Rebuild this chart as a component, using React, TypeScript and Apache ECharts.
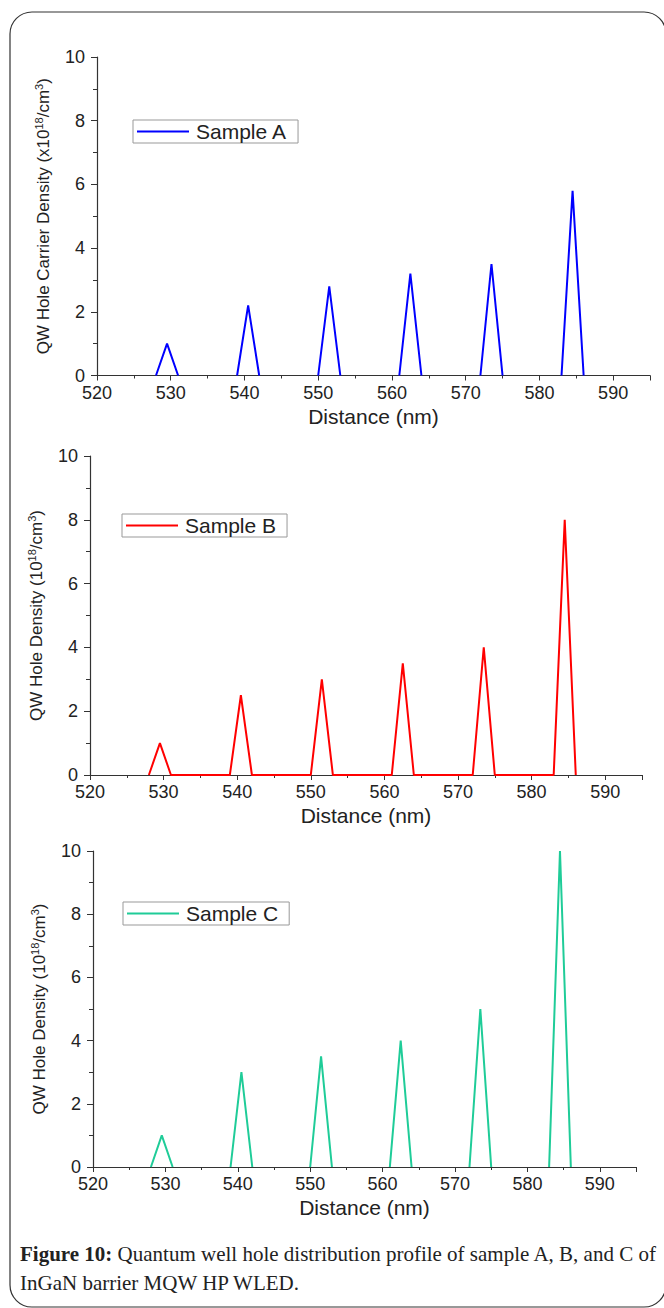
import React, { useEffect, useRef } from "react";
import * as echarts from "echarts";

// ---- data ----
const wellStart = [528, 539, 550, 561, 572, 583];
const peakPos = [529.5, 540.5, 551.5, 562.5, 573.5, 584.5];
const wellEnd = [531, 542, 553, 564, 575, 586];
const peaksA = [1.0, 2.2, 2.8, 3.2, 3.5, 5.8];
const peaksB = [1.0, 2.5, 3.0, 3.5, 4.0, 8.0];
const peaksC = [1.0, 3.0, 3.5, 4.0, 5.0, 10.0];
const seriesNames = ["Sample A", "Sample B", "Sample C"];
const seriesColors = ["#0000ff", "#ff0000", "#1fcc98"];
const yNames = [
  "QW Hole Carrier Density (x10{sup|18}/cm{sup|3})",
  "QW Hole Density (10{sup|18}/cm{sup|3})",
  "QW Hole Density (10{sup|18}/cm{sup|3})",
];
const xName = "Distance (nm)";
const xMin = 520, xMax = 595, xInterval = 10;
const yMin = 0, yMax = 10, yInterval = 2;
const captionBold = "Figure 10:";
const captionLine1 = " Quantum well hole distribution profile of sample A, B, and C of";
const captionLine2 = "InGaN barrier MQW HP WLED.";

const SANS = "'Liberation Sans', Arial, sans-serif";
const SERIF = "'Liberation Serif', 'Times New Roman', serif";

function buildData(peaks: number[], continuous: boolean) {
  const out: any[] = [];
  peaks.forEach((p, i) => {
    out.push([wellStart[i], 0]);
    out.push([peakPos[i], p]);
    out.push([wellEnd[i], 0]);
    if (!continuous && i < peaks.length - 1) out.push([wellEnd[i], "-"]);
  });
  return out;
}

const grids = [
  { left: 97, top: 57, width: 553, height: 318.5 },
  { left: 90, top: 456, width: 552, height: 319 },
  { left: 93, top: 851, width: 543, height: 316 },
];
const legendPos = [
  { left: 133, top: 120 },
  { left: 122, top: 514 },
  { left: 123, top: 902 },
];

export default function App() {
  const ref = useRef<HTMLDivElement>(null);
  useEffect(() => {
    if (!ref.current) return;
    const chart = echarts.init(ref.current, null, { renderer: "svg" });
    const axisColor = "#333";
    const textColor = "#222";
    const xAxes = grids.map((_, i) => ({
      type: "value",
      gridIndex: i,
      min: xMin,
      max: xMax,
      interval: xInterval,
      name: xName,
      nameLocation: "middle",
      nameGap: 30,
      nameTextStyle: { fontFamily: SANS, fontSize: 21, color: textColor },
      axisLine: { show: true, lineStyle: { color: axisColor, width: 1.2 } },
      axisTick: { show: true, length: 5, lineStyle: { color: axisColor } },
      minorTick: { show: true, splitNumber: 2, length: 3, lineStyle: { color: axisColor } },
      splitLine: { show: false },
      axisLabel: { fontFamily: SANS, fontSize: 18, color: textColor, margin: 8, showMaxLabel: false },
    }));
    const yAxes = grids.map((_, i) => ({
      type: "value",
      gridIndex: i,
      min: yMin,
      max: yMax,
      interval: yInterval,
      name: yNames[i],
      nameLocation: "middle",
      nameRotate: 90,
      nameGap: 38,
      nameTextStyle: {
        fontFamily: SANS,
        fontSize: 17,
        color: textColor,
        lineHeight: 21,
        rich: {
          sup: { fontFamily: SANS, fontSize: 11, lineHeight: 12, verticalAlign: "top", color: textColor },
        },
      },
      axisLine: { show: true, lineStyle: { color: axisColor, width: 1.2 } },
      axisTick: { show: true, length: 6, lineStyle: { color: axisColor } },
      minorTick: { show: true, splitNumber: 2, length: 4, lineStyle: { color: axisColor } },
      splitLine: { show: false },
      axisLabel: { fontFamily: SANS, fontSize: 18, color: textColor, margin: 12 },
    }));
    const allPeaks = [peaksA, peaksB, peaksC];
    const series = allPeaks.map((pk, i) => ({
      type: "line",
      name: seriesNames[i],
      xAxisIndex: i,
      yAxisIndex: i,
      data: buildData(pk, i === 1),
      symbol: "none",
      connectNulls: false,
      lineStyle: { color: seriesColors[i], width: 2 },
      itemStyle: { color: seriesColors[i] },
    }));
    const legends = legendPos.map((p, i) => ({
      data: [seriesNames[i]],
      left: p.left,
      top: p.top,
      orient: "horizontal",
      icon: "rect",
      itemWidth: 52,
      itemHeight: 2,
      itemGap: 5,
      padding: [1, 11, 1, 4],
      borderColor: "#999",
      borderWidth: 1,
      selectedMode: false,
      textStyle: { fontFamily: SANS, fontSize: 21, color: textColor, lineHeight: 20, padding: [0, 0, 0, 2] },
    }));
    chart.setOption({
      animation: false,
      backgroundColor: "#fff",
      grid: grids.map((g) => ({ ...g, containLabel: false })),
      xAxis: xAxes,
      yAxis: yAxes,
      legend: legends,
      series,
      graphic: [
        {
          type: "rect",
          shape: { x: 10, y: 12, width: 656, height: 1295, r: 22 },
          style: { fill: "none", stroke: "#333", lineWidth: 1.2 },
          silent: true,
        },
        {
          type: "text",
          x: 20,
          y: 1254,
          style: {
            text: "{b|" + captionBold + "}" + captionLine1,
            fontFamily: SERIF,
            fontSize: 21,
            fill: "#222",
            verticalAlign: "middle",
            rich: { b: { fontFamily: SERIF, fontSize: 21, fontWeight: "bold", fill: "#222" } },
          },
        },
        {
          type: "text",
          x: 20,
          y: 1283,
          style: {
            text: captionLine2,
            fontFamily: SERIF,
            fontSize: 21,
            fill: "#222",
            verticalAlign: "middle",
          },
        },
      ],
    });
    return () => chart.dispose();
  }, []);
  return (
    <div
      ref={ref}
      style={{ position: "absolute", left: 0, top: 0, width: 664, height: 1308 }}
    />
  );
}
